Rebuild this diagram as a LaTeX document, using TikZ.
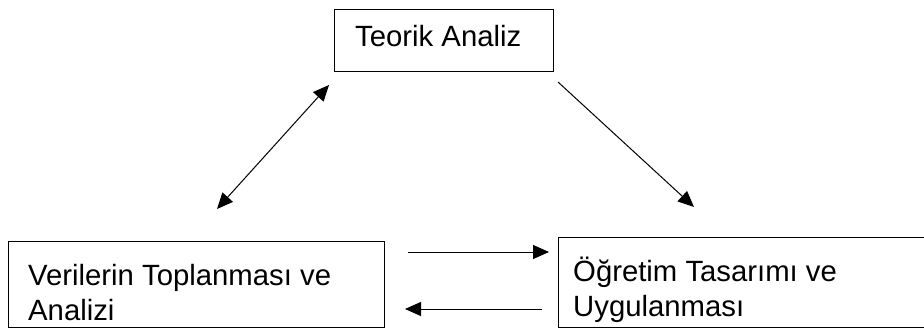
\documentclass[tikz,border=0pt]{standalone}
\usepackage{fontspec}
\setmainfont{Liberation Sans}
\usetikzlibrary{arrows.meta}
\begin{document}
\begin{tikzpicture}[x=1pt,y=-1pt,
  box/.style={draw=black, line width=1.2pt, inner sep=0pt, anchor=north west},
  lbl/.style={anchor=base west, inner sep=0pt, align=left,
              font=\fontsize{29.3}{35}\selectfont},
  tip/.style={Triangle[length=16pt,width=14pt]},
  link/.style={line width=1pt, -{Triangle[length=16pt,width=14pt]}},
  twoway/.style={line width=1pt, {Triangle[length=16pt,width=14pt]}-{Triangle[length=16pt,width=14pt]}}]
\useasboundingbox (0,0) rectangle (924,329);
\clip (0,0) rectangle (924,329);

% the three stages
\node[box, minimum width=219pt, minimum height=62pt] (teorik) at (334,9) {};
\node[box, minimum width=376pt, minimum height=86.5pt] (veri) at (8,240.5) {};
\node[box, minimum width=390pt, minimum height=90pt] (ogretim) at (558,237) {};

% labels (base anchor sits on the last line)
\node[lbl] (teorikText) at (355,46.7) {Teorik Analiz};
\node[lbl] (veriText) at (28,320) {Verilerin Toplanması ve\\Analizi};
\node[lbl] (ogretimText) at (573,316) {Öğretim Tasarımı ve\\Uygulanması};

% free ends of the connectors
\coordinate (tvA) at (329,85);
\coordinate (tvB) at (217,209);
\coordinate (toA) at (558,82);
\coordinate (toB) at (694,207);
\coordinate (voA) at (408,252);
\coordinate (voB) at (549,252);
\coordinate (ovA) at (542,309);
\coordinate (ovB) at (405,309);

\draw[twoway] (tvB) -- (tvA);
\draw[link] (toA) -- (toB);
\draw[link] (voA) -- (voB);
\draw[link] (ovA) -- (ovB);
\end{tikzpicture}
\end{document}
